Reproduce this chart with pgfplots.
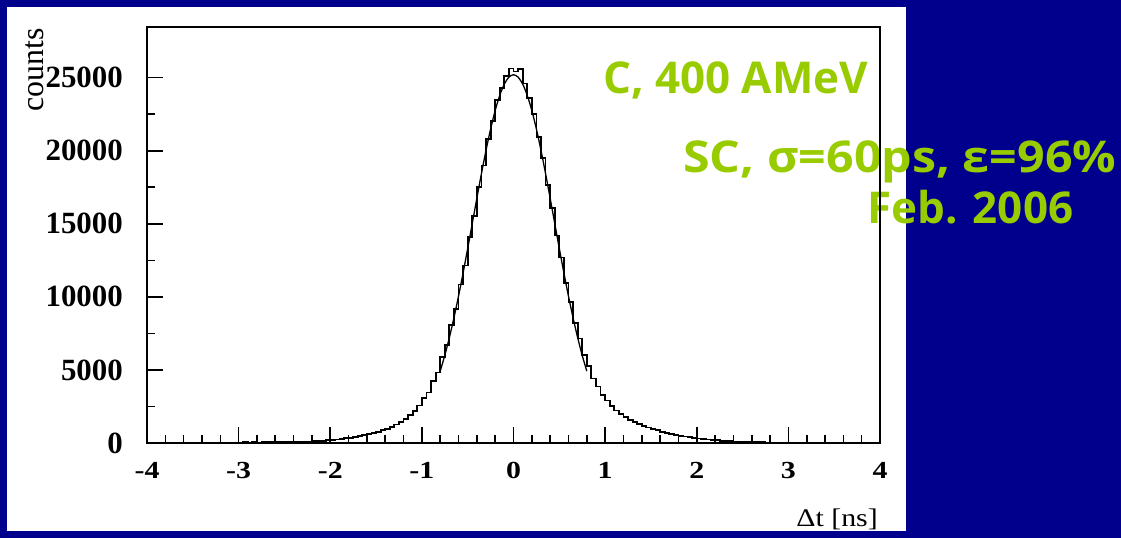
\documentclass[border=0pt]{standalone}
\usepackage{pgfplots}
\pgfplotsset{compat=1.18}
\usepackage{fontspec}
\setmainfont{Liberation Serif}
\newfontfamily\gfont{Open Sans}
\usepackage{graphicx}
\definecolor{bgblue}{RGB}{0,0,140}
\definecolor{lime}{RGB}{153,204,0}
\newcommand{\xl}[1]{\scalebox{1}[0.82]{#1}}
\begin{document}
\begin{tikzpicture}[x=1bp,y=1bp]
\useasboundingbox (0,0) rectangle (1121,538);
\fill[bgblue] (0,0) rectangle (1121,538);
\fill[white] (7,7) rectangle (906,531);
\node[anchor=base west, inner sep=0, text=lime, font=\gfont\bfseries\fontsize{44}{44}\selectfont] at (603,444.7) {\resizebox{265bp}{\height}{C, 400 AMeV}};
\node[anchor=base west, inner sep=0, text=lime, font=\gfont\bfseries\fontsize{44}{44}\selectfont] at (683,365) {\resizebox{433bp}{\height}{SC, σ=60ps, ε=96\%}};
\node[anchor=base west, inner sep=0, text=lime, font=\gfont\bfseries\fontsize{44}{44}\selectfont] at (867,314.7) {\resizebox{206bp}{\height}{Feb. 2006}};
\node[rotate=90, anchor=base east, inner sep=0, font=\fontsize{32}{32}\selectfont] at (43,510) {counts};
\node[anchor=base east, inner sep=0, font=\fontsize{30}{30}\selectfont] at (878,11.3) {\scalebox{1}[0.85]{Δt [ns]}};
\begin{axis}[
  at={(147bp,95bp)}, anchor=south west,
  scale only axis, width=733bp, height=416bp,
  xmin=-4, xmax=4, ymin=0, ymax=28470,
  axis line style={line width=1.8bp},
  tick pos=left, tick align=inside,
  major tick length=16bp, minor tick length=8bp,
  every tick/.append style={line width=1.6bp, black},
  xtick={-4,-3,-2,-1,0,1,2,3,4},
  xticklabels={\xl{-4},\xl{-3},\xl{-2},\xl{-1},\xl{0},\xl{1},\xl{2},\xl{3},\xl{4}},
  minor x tick num=4,
  ytick={0,5000,10000,15000,20000,25000},
  yticklabels={0,5000,10000,15000,20000,25000},
  minor y tick num=1,
  xticklabel style={anchor=north, inner sep=0pt, yshift=-19bp, font=\fontsize{30}{30}\selectfont\bfseries},
  yticklabel style={anchor=east, inner sep=0pt, xshift=-24bp, font=\fontsize{31}{31}\selectfont\bfseries},
  scaled y ticks=false,
]
\addplot[const plot mark left, line width=1.8bp, black] table {
x y
-3.30 22
-3.25 31
-3.20 27
-3.15 35
-3.10 30
-3.05 38
-3.00 33
-2.95 41
-2.90 36
-2.85 44
-2.80 40
-2.75 47
-2.70 43
-2.65 51
-2.60 48
-2.55 56
-2.50 60
-2.45 66
-2.40 73
-2.35 83
-2.30 94
-2.25 107
-2.20 123
-2.15 141
-2.10 161
-2.05 185
-2.00 212
-1.95 243
-1.90 278
-1.85 317
-1.80 362
-1.75 411
-1.70 466
-1.65 531
-1.60 602
-1.55 681
-1.50 770
-1.45 870
-1.40 983
-1.35 1115
-1.30 1267
-1.25 1443
-1.20 1653
-1.15 1903
-1.10 2204
-1.05 2566
-1.00 3080
-0.95 3450
-0.90 4260
-0.85 4820
-0.80 5900
-0.75 6700
-0.70 8080
-0.65 9180
-0.60 10850
-0.55 12150
-0.50 14080
-0.45 15560
-0.40 17520
-0.35 18990
-0.30 20820
-0.25 22020
-0.20 23480
-0.15 24300
-0.10 25120
-0.05 25630
0.00 25420
0.05 25620
0.10 24600
0.15 23620
0.20 22530
0.25 20950
0.30 19500
0.35 17650
0.40 16100
0.45 14200
0.50 12700
0.55 10950
0.60 9650
0.65 8200
0.70 7150
0.75 6030
0.80 5260
0.85 4420
0.90 3870
0.95 3290
1.00 2910
1.05 2520
1.10 2220
1.15 1970
1.20 1760
1.25 1580
1.30 1423
1.35 1286
1.40 1164
1.45 1054
1.50 954
1.55 862
1.60 778
1.65 698
1.70 628
1.75 564
1.80 505
1.85 450
1.90 400
1.95 355
2.00 314
2.05 276
2.10 243
2.15 213
2.20 186
2.25 162
2.30 140
2.35 121
2.40 105
2.45 90
2.50 77
2.55 66
2.60 56
2.65 48
2.70 44
2.75 40
2.80 36
2.85 33
2.90 30
2.95 28
3.00 25
3.05 22
3.10 22
};
\addplot[smooth, line width=1.3bp, black] table {
x y
-0.80 4918
-0.75 5994
-0.70 7213
-0.65 8570
-0.60 10052
-0.55 11641
-0.50 13311
-0.45 15027
-0.40 16750
-0.35 18433
-0.30 20027
-0.25 21484
-0.20 22754
-0.15 23793
-0.10 24565
-0.05 25040
0.00 25200
0.05 25040
0.10 24565
0.15 23793
0.20 22754
0.25 21484
0.30 20027
0.35 18433
0.40 16750
0.45 15027
0.50 13311
0.55 11641
0.60 10052
0.65 8570
0.70 7213
0.75 5994
0.80 4918
};
\end{axis}
\end{tikzpicture}
\end{document}
